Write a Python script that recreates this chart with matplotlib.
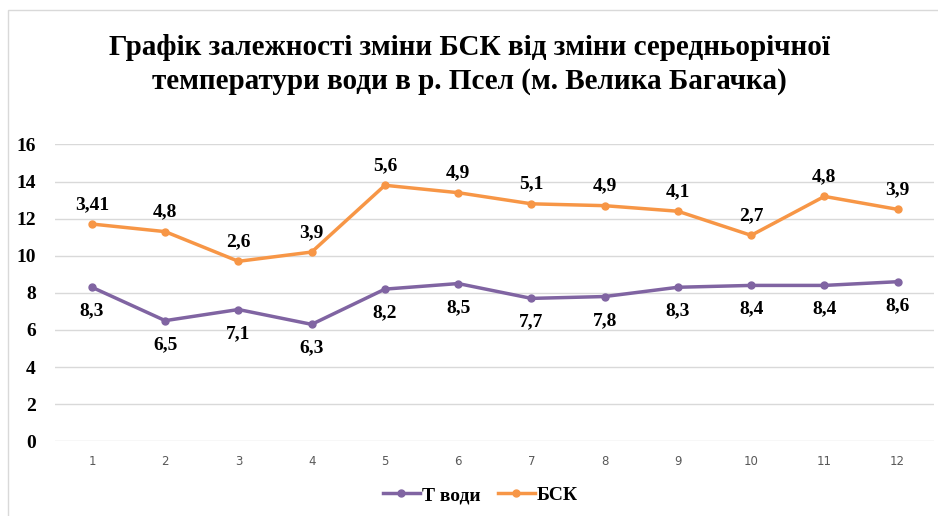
import matplotlib
matplotlib.use("Agg")
import matplotlib.pyplot as plt
from matplotlib.patches import Rectangle

# Дані
months = [1, 2, 3, 4, 5, 6, 7, 8, 9, 10, 11, 12]
t_vody = [8.3, 6.5, 7.1, 6.3, 8.2, 8.5, 7.7, 7.8, 8.3, 8.4, 8.4, 8.6]
bsk = [3.41, 4.8, 2.6, 3.9, 5.6, 4.9, 5.1, 4.9, 4.1, 2.7, 4.8, 3.9]
y_ticks = [0, 2, 4, 6, 8, 10, 12, 14, 16]

purple = "#8064A2"
orange = "#F79646"
serif = "Liberation Serif"

# Накопичений графік: БСК відкладається над Т води
bsk_stacked = [t + b for t, b in zip(t_vody, bsk)]

fig = plt.figure(figsize=(9.38, 5.16), dpi=100)
ax = fig.add_axes([0.059, 0.145, 0.937, 0.575])

ax.plot(months, t_vody, color=purple, lw=2.5, marker="o", ms=5, label="Т води")
ax.plot(months, bsk_stacked, color=orange, lw=2.5, marker="o", ms=5, label="БСК")

for x, y, v in zip(months, t_vody, t_vody):
    ax.annotate(f"{v:g}".replace(".", ","), (x, y), xytext=(0, -11), textcoords="offset points",
                ha="center", va="top", fontsize=14, fontweight="bold", family=serif)
for x, y, v in zip(months, bsk_stacked, bsk):
    ax.annotate(f"{v:g}".replace(".", ","), (x, y), xytext=(0, 8), textcoords="offset points",
                ha="center", va="bottom", fontsize=14, fontweight="bold", family=serif)

ax.set_xlim(0.5, 12.5)
ax.set_ylim(0, 16)
ax.set_xticks(months)
ax.set_yticks(y_ticks)
ax.tick_params(axis="x", length=0, labelsize=8.5, labelcolor="#595959", pad=10)
ax.tick_params(axis="y", length=0, pad=14)
for lbl in ax.get_yticklabels():
    lbl.set_fontfamily(serif)
    lbl.set_fontweight("bold")
    lbl.set_fontsize(14)
ax.grid(axis="y", color="#D9D9D9", lw=1)
ax.set_axisbelow(True)
for s in ax.spines.values():
    s.set_visible(False)

fig.text(0.5, 0.875, "Графік залежності зміни БСК від зміни середньорічної\nтемператури води в р. Псел (м. Велика Багачка)",
         ha="center", va="center", fontsize=21, fontweight="bold", family=serif, linespacing=1.3)

leg = fig.legend(loc="center", bbox_to_anchor=(0.512, 0.04), ncol=2, frameon=False,
                 prop={"family": serif, "weight": "bold", "size": 14},
                 handlelength=1.9, columnspacing=0.9, handletextpad=0.1)

fig.patches.append(Rectangle((0.008, -0.01), 1.0, 0.99, transform=fig.transFigure,
                             fill=False, edgecolor="#D9D9D9", lw=1))

fig.savefig("out.png", dpi=100)
